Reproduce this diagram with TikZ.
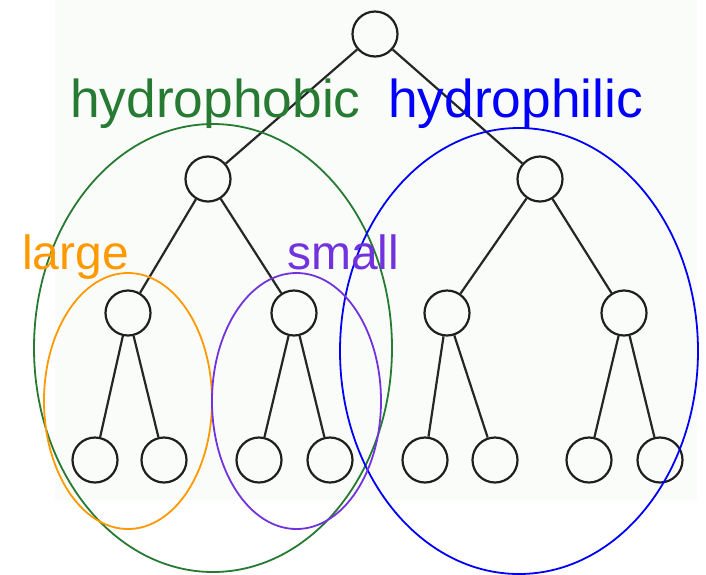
\documentclass[tikz,border=0pt]{standalone}
\usepackage{fontspec}
\setmainfont{Liberation Sans}
\definecolor{bgc}{RGB}{250,252,250}
\definecolor{hgreen}{RGB}{38,122,50}
\definecolor{hblue}{RGB}{0,0,250}
\definecolor{horange}{RGB}{255,153,0}
\definecolor{hpurple}{RGB}{114,50,222}
\tikzset{
  tnode/.style={circle,draw=black!88,line width=2.2pt,minimum size=45pt,inner sep=0pt},
  tedge/.style={draw=black!85,line width=2.2pt},
  grp/.style={line width=1.8pt},
  lbl/.style={anchor=base west,inner sep=0pt,font=\fontsize{48}{58}\selectfont},
  biglbl/.style={lbl,font=\fontsize{53.3}{64}\selectfont}
}
\begin{document}
\begin{tikzpicture}[x=1pt,y=-1pt]
\useasboundingbox (0,0) rectangle (706,574);
\fill[white] (0,0) rectangle (706,574);
\fill[bgc] (55,0) rectangle (697,500);
% tree
\node[tnode] (r) at (375,34) {};
\node[tnode] (a) at (208,179) {};
\node[tnode] (b) at (540,179) {};
\node[tnode] (a1) at (128,313) {};
\node[tnode] (a2) at (294,313) {};
\node[tnode] (b1) at (447,313) {};
\node[tnode] (b2) at (624,313) {};
\node[tnode] (l1) at (95,460) {};
\node[tnode] (l2) at (164,460) {};
\node[tnode] (l3) at (259,460) {};
\node[tnode] (l4) at (330,460) {};
\node[tnode] (l5) at (425,460) {};
\node[tnode] (l6) at (495,460) {};
\node[tnode] (l7) at (589,460) {};
\node[tnode] (l8) at (660,460) {};
\draw[tedge] (r) -- (a);
\draw[tedge] (r) -- (b);
\draw[tedge] (a) -- (a1);
\draw[tedge] (a) -- (a2);
\draw[tedge] (b) -- (b1);
\draw[tedge] (b) -- (b2);
\draw[tedge] (a1) -- (l1);
\draw[tedge] (a1) -- (l2);
\draw[tedge] (a2) -- (l3);
\draw[tedge] (a2) -- (l4);
\draw[tedge] (b1) -- (l5);
\draw[tedge] (b1) -- (l6);
\draw[tedge] (b2) -- (l7);
\draw[tedge] (b2) -- (l8);
% groups
\draw[grp,hgreen] (213,348) ellipse [x radius=179, y radius=224];
\draw[grp,hblue] (519,351) ellipse [x radius=179, y radius=223];
\draw[grp,horange] (128,401) ellipse [x radius=84, y radius=128];
\draw[grp,hpurple] (296.5,401) ellipse [x radius=84.5, y radius=128];
% labels
\node[biglbl,text=hgreen] (t1) at (70,117) {hydrophobic};
\node[biglbl,text=hblue] (t2) at (388,117) {hydrophilic};
\node[lbl,text=horange] (t3) at (22,269) {large};
\node[lbl,text=hpurple] (t4) at (287,269) {small};
\end{tikzpicture}
\end{document}
